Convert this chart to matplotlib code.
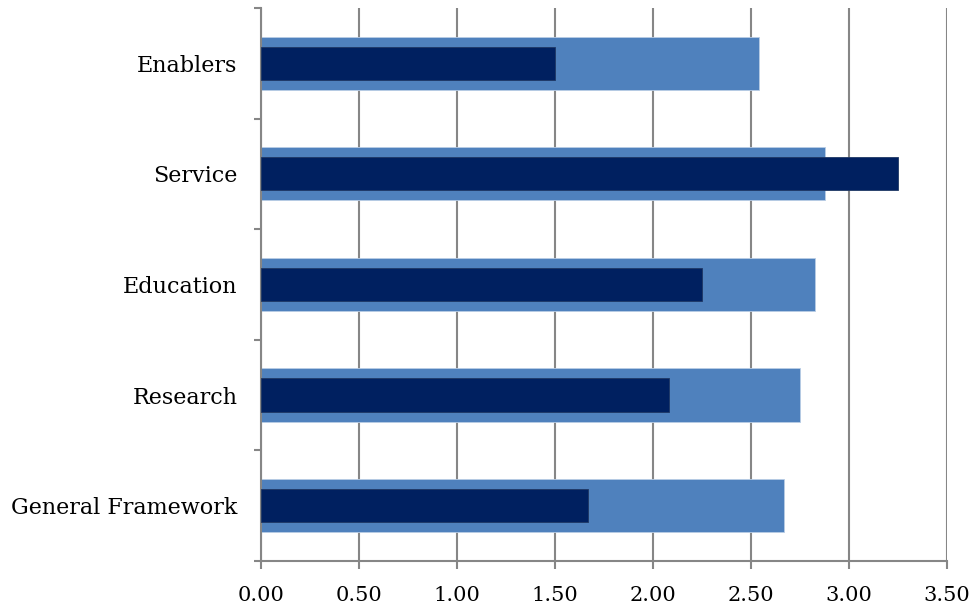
import numpy as np
import matplotlib
matplotlib.use("Agg")
from matplotlib import pyplot as plt

categories = ["General Framework", "Research", "Education", "Service", "Enablers"]
target_scores = [2.67, 2.75, 2.83, 2.88, 2.54]
actual_scores = [1.67, 2.08, 2.25, 3.25, 1.50]
x_ticks = [0.0, 0.5, 1.0, 1.5, 2.0, 2.5, 3.0, 3.5]

plt.rcParams["font.family"] = ["DejaVu Serif"]

fig = plt.figure(figsize=(9.74, 6.11), dpi=100)
ax = fig.add_axes([0.268, 0.082, 0.704, 0.905])

y = np.arange(len(categories))
ax.barh(y, target_scores, height=0.48, color="#4F81BD", edgecolor="#B9CDE5", linewidth=0.6, zorder=2)
ax.barh(y, actual_scores, height=0.30, color="#002060", edgecolor="#1F3864", linewidth=0.6, zorder=3)

ax.set_xlim(0, 3.5)
ax.set_ylim(-0.5, len(categories) - 0.5)
ax.set_xticks(x_ticks)
ax.set_xticklabels(["%.2f" % t for t in x_ticks])
ax.set_yticks(y)
ax.set_yticklabels(categories)
ax.set_yticks(np.arange(-0.5, len(categories)), minor=True)

ax.set_axisbelow(True)
ax.grid(axis="x", color="#868686", linewidth=1.5)
for side in ["top", "right"]:
    ax.spines[side].set_visible(False)
for side in ["left", "bottom"]:
    ax.spines[side].set_color("#868686")
    ax.spines[side].set_linewidth(1.5)

ax.tick_params(axis="x", length=6, width=1.5, color="#868686", labelsize=15, pad=12)
ax.tick_params(axis="y", which="major", length=0, labelsize=16, pad=17)
ax.tick_params(axis="y", which="minor", length=5, width=1.5, color="#868686")

fig.savefig("out.png", dpi=100)
